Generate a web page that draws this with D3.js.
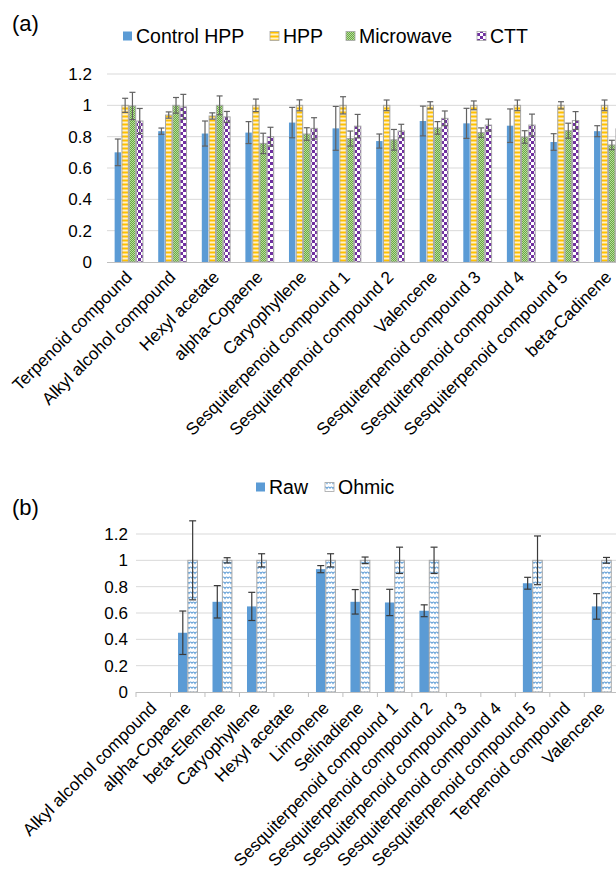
<!DOCTYPE html>
<html>
<head>
<meta charset="utf-8">
<script src="https://cdn.jsdelivr.net/npm/d3@7"></script>
<style>
  body { margin: 0; background: #fff; }
  text { font-family: "Liberation Sans", Arial, sans-serif; fill: #000; }
</style>
</head>
<body>
<div id="chart"></div>
<script>
// ---- data, panel (a) ----
var catsA = ["Terpenoid compound", "Alkyl alcohol compound", "Hexyl acetate", "alpha-Copaene",
  "Caryophyllene", "Sesquiterpenoid compound 1", "Sesquiterpenoid compound 2", "Valencene",
  "Sesquiterpenoid compound 3", "Sesquiterpenoid compound 4", "Sesquiterpenoid compound 5", "beta-Cadinene"];
var seriesA = ["Control HPP", "HPP", "Microwave", "CTT"];
var controlHPP = [0.70, 0.835, 0.82, 0.826, 0.89, 0.853, 0.772, 0.90, 0.885, 0.87, 0.766, 0.835];
var controlErr = [0.085, 0.02, 0.08, 0.07, 0.097, 0.14, 0.045, 0.095, 0.096, 0.107, 0.053, 0.035];
var hpp = [1.0, 0.938, 0.932, 1.0, 1.0, 1.0, 1.0, 1.0, 1.0, 1.0, 1.0, 1.0];
var hppErr = [0.045, 0.02, 0.02, 0.04, 0.035, 0.055, 0.034, 0.023, 0.028, 0.034, 0.023, 0.034];
var microwave = [0.996, 1.0, 1.0, 0.757, 0.817, 0.788, 0.78, 0.856, 0.826, 0.798, 0.838, 0.747];
var microErr = [0.087, 0.05, 0.06, 0.065, 0.04, 0.048, 0.066, 0.04, 0.03, 0.04, 0.048, 0.03];
var ctt = [0.90, 0.99, 0.926, 0.80, 0.853, 0.867, 0.836, 0.917, 0.874, 0.874, 0.903, 0.85];
var cttErr = [0.08, 0.08, 0.035, 0.06, 0.068, 0.075, 0.043, 0.047, 0.038, 0.07, 0.057, 0.05];

// ---- data, panel (b) ----
var catsB = ["Alkyl alcohol compound", "alpha-Copaene", "beta-Elemene", "Caryophyllene", "Hexyl acetate",
  "Limonene", "Selinadiene", "Sesquiterpenoid compound 1", "Sesquiterpenoid compound 2",
  "Sesquiterpenoid compound 3", "Sesquiterpenoid compound 4", "Sesquiterpenoid compound 5",
  "Terpenoid compound", "Valencene"];
var seriesB = ["Raw", "Ohmic"];
var raw = [0, 0.45, 0.685, 0.65, 0, 0.933, 0.685, 0.68, 0.617, 0, 0, 0.826, 0, 0.65];
var rawErr = [0, 0.165, 0.123, 0.107, 0, 0.027, 0.093, 0.1, 0.045, 0, 0, 0.045, 0, 0.097];
var ohmic = [0, 1, 1, 1, 0, 1, 1, 1, 1, 0, 0, 1, 0, 1];
var ohmicErr = [0, 0.3, 0.02, 0.05, 0, 0.05, 0.025, 0.1, 0.1, 0, 0, 0.185, 0, 0.022];

var yTicks = [0, 0.2, 0.4, 0.6, 0.8, 1, 1.2];

var width = 616, height = 872;
var svg = d3.select("#chart").append("svg")
  .attr("width", width).attr("height", height);
svg.append("rect").attr("width", width).attr("height", height).attr("fill", "#fff");

// ---- fill patterns ----
var defs = svg.append("defs");
var p = defs.append("pattern").attr("id", "pHPP").attr("patternUnits", "userSpaceOnUse")
  .attr("width", 4).attr("height", 4);
p.append("rect").attr("width", 4).attr("height", 4).attr("fill", "#FFD966");
p.append("rect").attr("y", 0).attr("width", 4).attr("height", 1).attr("fill", "#FFC000");
p.append("rect").attr("y", 2).attr("width", 4).attr("height", 1).attr("fill", "#FFF2CC");

p = defs.append("pattern").attr("id", "pMicro").attr("patternUnits", "userSpaceOnUse")
  .attr("width", 2).attr("height", 2);
p.append("rect").attr("width", 2).attr("height", 2).attr("fill", "#6AAA42");
p.append("rect").attr("width", 1).attr("height", 1).attr("fill", "#B7DA9E");
p.append("rect").attr("x", 1).attr("y", 1).attr("width", 1).attr("height", 1).attr("fill", "#B7DA9E");

p = defs.append("pattern").attr("id", "pCTT").attr("patternUnits", "userSpaceOnUse")
  .attr("width", 6).attr("height", 6);
p.append("rect").attr("width", 6).attr("height", 6).attr("fill", "#fff");
p.append("rect").attr("width", 3).attr("height", 3).attr("fill", "#7030A0");
p.append("rect").attr("x", 3).attr("y", 3).attr("width", 3).attr("height", 3).attr("fill", "#7030A0");

p = defs.append("pattern").attr("id", "pOhmic").attr("patternUnits", "userSpaceOnUse")
  .attr("width", 6).attr("height", 5);
p.append("rect").attr("width", 6).attr("height", 5).attr("fill", "#fff");
p.append("path").attr("d", "M0,3.5 Q1.5,0.5 3,3.5 Q4.5,0.5 6,3.5")
  .attr("fill", "none").attr("stroke", "#5B9BD5").attr("stroke-width", 1.1);

var fillsA = ["#5B9BD5", "url(#pHPP)", "url(#pMicro)", "url(#pCTT)"];
var fillsB = ["#5B9BD5", "url(#pOhmic)"];

function panel(opt) {
  var g = svg.append("g");
  var x0 = d3.scaleBand().domain(opt.cats).range(opt.xr)
    .paddingInner(opt.padIn).paddingOuter(opt.padOut);
  var x1 = d3.scaleBand().domain(d3.range(opt.series.length))
    .range([0, x0.bandwidth()]).padding(opt.padSeries);
  var y = d3.scaleLinear().domain([0, 1.2]).range(opt.yr);

  // gridlines
  g.selectAll(".grid").data(yTicks.slice(1)).enter().append("line")
    .attr("x1", opt.xr[0]).attr("x2", width)
    .attr("y1", function(d) { return y(d); }).attr("y2", function(d) { return y(d); })
    .attr("stroke", "#D9D9D9").attr("stroke-width", 1);

  // y axis labels
  var ya = g.append("g").attr("transform", "translate(" + opt.xr[0] + ",0)")
    .call(d3.axisLeft(y).tickValues(yTicks).tickFormat(d3.format("~g"))
      .tickSize(0).tickPadding(opt.yPad));
  ya.select(".domain").remove();
  ya.selectAll("text").style("font-size", "17px")
    .style("font-family", "'Liberation Sans', Arial, sans-serif").attr("fill", "#000");

  // bars
  opt.series.forEach(function(s, si) {
    var vals = opt.values[si];
    var bars = g.append("g");
    bars.selectAll("rect").data(opt.cats).enter().append("rect")
      .attr("x", function(d) { return x0(d) + x1(si); })
      .attr("y", function(d, i) { return y(vals[i]); })
      .attr("width", x1.bandwidth())
      .attr("height", function(d, i) { return y(0) - y(vals[i]); })
      .attr("fill", opt.fills[si])
      .attr("stroke", si === 0 ? "none" : "#A6A6A6")
      .attr("stroke-width", function(d, i) { return vals[i] > 0 ? 1 : 0; });
  });

  // baseline axis
  var xa = g.append("g").attr("transform", "translate(0," + y(0) + ")")
    .call(d3.axisBottom(x0).tickSize(0).tickFormat(""));
  xa.select(".domain").attr("stroke", "#BFBFBF").attr("d", "M" + opt.xr[0] + ",0.5H" + width);
  if (opt.ticks) {
    var step = x0.step();
    g.selectAll(".tk").data(d3.range(opt.cats.length + 1)).enter().append("line")
      .attr("x1", function(i) { return opt.xr[0] + i * step; })
      .attr("x2", function(i) { return opt.xr[0] + i * step; })
      .attr("y1", y(0)).attr("y2", y(0) + 5)
      .attr("stroke", "#BFBFBF");
  }

  // error bars
  opt.series.forEach(function(s, si) {
    var vals = opt.values[si], errs = opt.errs[si];
    var eg = g.append("g").attr("stroke", opt.errColor).attr("stroke-width", 1.2);
    opt.cats.forEach(function(c, i) {
      if (!errs[i]) return;
      var cx = x0(c) + x1(si) + x1.bandwidth() / 2;
      var t = y(vals[i] + errs[i]), b = y(vals[i] - errs[i]);
      eg.append("line").attr("x1", cx).attr("x2", cx).attr("y1", t).attr("y2", b);
      eg.append("line").attr("x1", cx - opt.cap).attr("x2", cx + opt.cap).attr("y1", t).attr("y2", t);
      eg.append("line").attr("x1", cx - opt.cap).attr("x2", cx + opt.cap).attr("y1", b).attr("y2", b);
    });
  });

  // category labels
  g.selectAll(".cl").data(opt.cats).enter().append("text")
    .attr("transform", function(d) {
      return "translate(" + (x0(d) + x0.bandwidth() / 2) + "," + (y(0) + opt.labelDy) + ") rotate(-45)";
    })
    .attr("text-anchor", "end").attr("dy", "0.35em")
    .style("font-size", "17.2px")
    .text(function(d) { return d; });

  // legend
  var lg = g.append("g");
  opt.series.forEach(function(s, si) {
    lg.append("rect").attr("x", opt.legX[si]).attr("y", opt.legY - 4.5)
      .attr("width", 9).attr("height", 9).attr("fill", opt.fills[si])
      .attr("stroke", si === 0 ? "none" : "#A6A6A6").attr("stroke-width", 0.8);
    lg.append("text").attr("x", opt.legX[si] + 13).attr("y", opt.legY).attr("dy", "0.36em")
      .style("font-size", "19.5px").text(s);
  });

  // panel letter
  g.append("text").attr("x", 12).attr("y", opt.tagY).attr("dy", "0.36em")
    .style("font-size", "22px").text(opt.tag);
}

panel({
  cats: catsA, series: seriesA,
  values: [controlHPP, hpp, microwave, ctt],
  errs: [controlErr, hppErr, microErr, cttErr],
  fills: fillsA,
  xr: [107, 630], yr: [262, 74],
  padIn: 0.31, padOut: 0.155, padSeries: 0.12,
  yPad: 15, cap: 3, errColor: "#626262", ticks: false,
  labelDy: 12,
  legX: [123, 270, 346, 477], legY: 36,
  tag: "(a)", tagY: 23
});

panel({
  cats: catsB, series: seriesB,
  values: [raw, ohmic],
  errs: [rawErr, ohmicErr],
  fills: fillsB,
  xr: [136, 618.8], yr: [692, 534],
  padIn: 0.42, padOut: 0.21, padSeries: 0.03,
  yPad: 8, cap: 3.5, errColor: "#3A3A3A", ticks: true,
  labelDy: 13,
  legX: [256, 325], legY: 487,
  tag: "(b)", tagY: 507
});
</script>
</body>
</html>
